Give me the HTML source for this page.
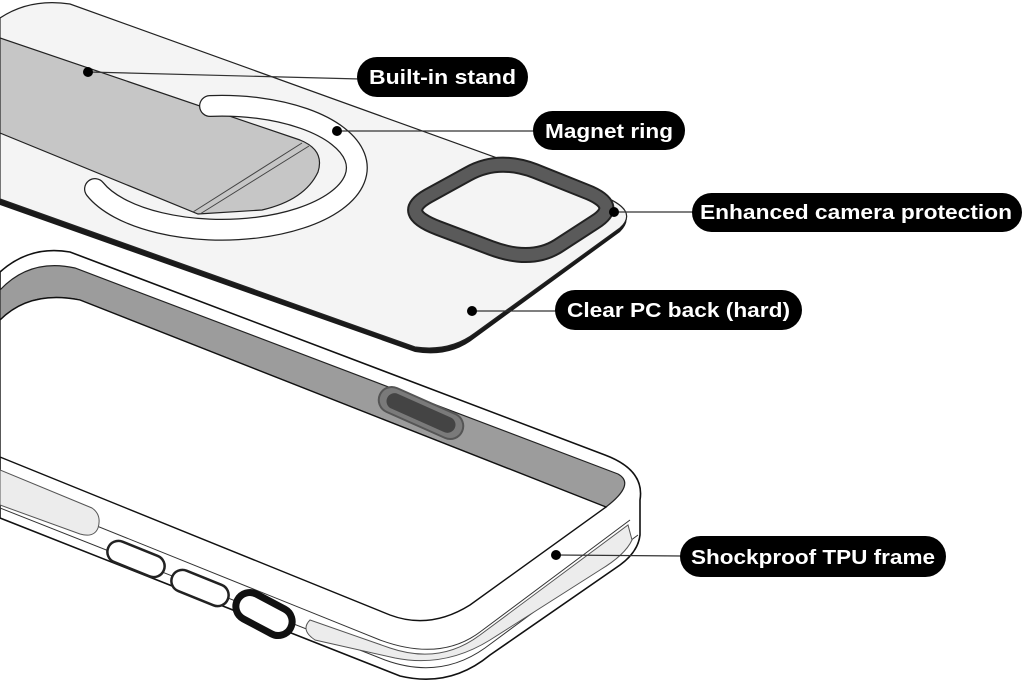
<!DOCTYPE html>
<html><head><meta charset="utf-8"><style>
html,body{margin:0;padding:0;background:#fff;}
svg{display:block;}
text{font-family:"Liberation Sans",Arial,sans-serif;font-weight:bold;font-size:20px;fill:#fff;}
</style></head><body>
<svg width="1024" height="685" viewBox="0 0 1024 685" xmlns="http://www.w3.org/2000/svg">
<!-- FRAME -->
<path d="M0,272 Q30,245 70,252 L605,455 Q645,470 640,500 L640,535 Q638,552 620,565 L490,655 Q450,688 400,676 L0,518 Z" fill="#fff" stroke="#111" stroke-width="1.6"/>
<path d="M0,290 Q30,258 75,268 L618,474 Q636,484 606,507 L80,300 Q30,290 0,320 Z" fill="#9c9c9c" stroke="#222" stroke-width="1.2"/>
<path d="M0,320 Q30,290 80,300 L606,507 L470,605 Q430,630 390,615 L0,457 Z" fill="#fff" stroke="#111" stroke-width="1.4"/>
<path d="M0,487 L380,640 Q440,662 480,632 L630,520" fill="none" stroke="#333" stroke-width="1"/>
<path d="M0,508 L385,660 Q440,680 485,648 L638,535" fill="none" stroke="#333" stroke-width="1"/>
<path d="M0,470 L92,508 Q102,515 98,528 Q94,538 80,534 L0,505 Z" fill="#ececec" stroke="#555" stroke-width="1"/>
<path d="M310,620 L390,648 Q440,665 480,635 L628,525 L632,540 Q625,555 600,570 L490,640 Q445,668 395,658 L315,640 Q300,630 310,620 Z" fill="#ececec" stroke="#555" stroke-width="1"/>
<rect x="106" y="548" width="60" height="22" rx="11" transform="rotate(22 136 559)" fill="#fff" stroke="#222" stroke-width="2.5"/>
<rect x="170" y="577" width="60" height="22" rx="11" transform="rotate(22 200 588)" fill="#fff" stroke="#222" stroke-width="2.5"/>
<rect x="234" y="600" width="60" height="28" rx="14" transform="rotate(28 264 614)" fill="#fff" stroke="#111" stroke-width="7"/>
<rect x="376" y="400" width="90" height="26" rx="13" transform="rotate(24 421 413)" fill="#7a7a7a" stroke="#555" stroke-width="2"/>
<rect x="384" y="405" width="74" height="16" rx="8" transform="rotate(24 421 413)" fill="#444"/>

<!-- BACK PLATE -->
<path d="M0,22 Q30,-2 70,6 L600,197 Q640,212 620,232 L475,338 Q450,358 415,352 L0,205 Z" fill="#1a1a1a"/>
<path d="M0,18 Q30,-2 70,4 L600,195 Q640,210 620,228 L475,333 Q450,352 415,347 L0,199 Z" fill="#f4f4f4" stroke="#222" stroke-width="1.2"/>
<path d="M0,38 L300,140 Q325,150 318,172 Q305,200 262,210 L198,214 L0,133 Z" fill="#c6c6c6" stroke="#222" stroke-width="1.2"/>
<path d="M193,212 L302,143 M200,214 L309,146" stroke="#444" stroke-width="1" fill="none"/>
<!-- magnet ring -->
<path d="M210,106 A135,62 0 1 1 95,189" fill="none" stroke="#222" stroke-width="22" stroke-linecap="round"/>
<path d="M210,106 A135,62 0 1 1 95,189" fill="none" stroke="#fff" stroke-width="19.5" stroke-linecap="round"/>
<!-- camera ring -->
<path d="M448,185 L468,174 Q498,157 535,171 L585,191 Q622,205 595,222 L558,246 Q531,263 491,248 L438,228 Q398,213 428,196 Z" fill="#f4f4f4" stroke="#222" stroke-width="16" stroke-linejoin="round"/>
<path d="M448,185 L468,174 Q498,157 535,171 L585,191 Q622,205 595,222 L558,246 Q531,263 491,248 L438,228 Q398,213 428,196 Z" fill="none" stroke="#5a5a5a" stroke-width="12" stroke-linejoin="round"/>

<!-- CALLOUTS -->
<g stroke="#333" stroke-width="1.2">
<line x1="88" y1="72" x2="360" y2="79"/>
<line x1="337" y1="131" x2="536" y2="131"/>
<line x1="614" y1="212" x2="694" y2="212"/>
<line x1="472" y1="311" x2="558" y2="311"/>
<line x1="556" y1="555" x2="682" y2="556"/>
</g>
<g fill="#000">
<circle cx="88" cy="72" r="5"/><circle cx="337" cy="131" r="5"/><circle cx="614" cy="212" r="5"/><circle cx="472" cy="311" r="5"/><circle cx="556" cy="555" r="5"/>
<rect x="357" y="57" width="171" height="40" rx="20"/>
<rect x="533" y="111" width="152" height="39" rx="19.5"/>
<rect x="692" y="193" width="330" height="39" rx="19.5"/>
<rect x="555" y="290" width="247" height="40" rx="20"/>
<rect x="680" y="536" width="266" height="41" rx="20.5"/>
</g>
<text x="369" y="84" textLength="147" lengthAdjust="spacingAndGlyphs">Built-in stand</text>
<text x="545" y="138" textLength="128" lengthAdjust="spacingAndGlyphs">Magnet ring</text>
<text x="700" y="219" textLength="312" lengthAdjust="spacingAndGlyphs">Enhanced camera protection</text>
<text x="567" y="317" textLength="223" lengthAdjust="spacingAndGlyphs">Clear PC back (hard)</text>
<text x="691" y="564" textLength="244" lengthAdjust="spacingAndGlyphs">Shockproof TPU frame</text>
</svg>
</body></html>
